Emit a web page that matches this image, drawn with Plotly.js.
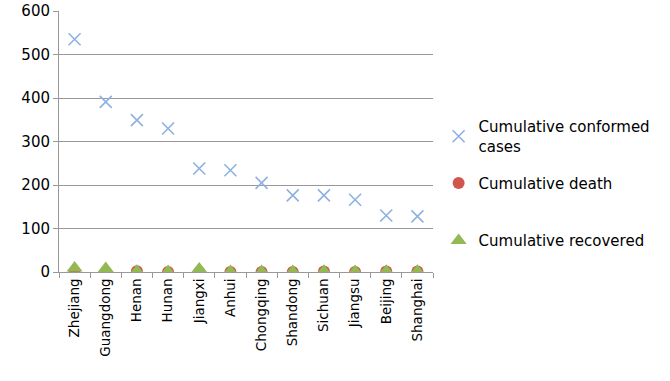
<!DOCTYPE html>
<html><head><meta charset="utf-8">
<script src="https://cdn.plot.ly/plotly-3.0.1.min.js"></script>
<style>html,body{margin:0;padding:0;background:#fff}#c{width:670px;height:381px}</style>
</head><body><div id="c"></div>
<script>
const provinces = ["Zhejiang","Guangdong","Henan","Hunan","Jiangxi","Anhui","Chongqing","Shandong","Sichuan","Jiangsu","Beijing","Shanghai"];
const confirmed = [535, 391, 349, 330, 238, 234, 205, 176, 176, 166, 130, 128];
const deaths = [0, 0, 2, 0, 0, 0, 0, 0, 1, 0, 1, 1];
const recovered = [9, 8, 2, 1, 7, 1, 1, 1, 2, 1, 2, 2];
const yTicks = [0, 100, 200, 300, 400, 500, 600];

const fontFam = "DejaVu Sans, sans-serif";
const traces = [
  {x: provinces, y: confirmed, type: "scatter", mode: "markers", name: "Cumulative conformed<br>cases",
   marker: {symbol: "x-thin", size: 12, line: {color: "#8EB1E0", width: 1.6}, color: "#8EB1E0"}, legend: "legend"},
  {x: provinces, y: deaths, type: "scatter", mode: "markers", name: "Cumulative death",
   marker: {symbol: "circle", size: 12, color: "#CF5750"}, legend: "legend2"},
  {x: provinces, y: recovered, type: "scatter", mode: "markers", name: "Cumulative recovered",
   marker: {symbol: "triangle-up", size: 14, color: "#93B955"}, legend: "legend3"}
];
const legBase = {xref: "paper", yref: "paper", xanchor: "left", yanchor: "middle", bgcolor: "rgba(0,0,0,0)",
  font: {family: fontFam, size: 15, color: "#000"}, itemwidth: 30};
const layout = {
  width: 670, height: 381,
  margin: {l: 59, r: 237, t: 11, b: 109},
  paper_bgcolor: "#fff", plot_bgcolor: "#fff",
  showlegend: true,
  xaxis: {type: "category", tickangle: -90, tickson: "boundaries", ticks: "outside", ticklen: 5, tickcolor: "#999",
    showline: true, linecolor: "#999", linewidth: 1, showgrid: false,
    tickfont: {family: fontFam, size: 13.5, color: "#000"}, range: [-0.5, 11.5]},
  yaxis: {range: [0, 600], tickvals: yTicks, ticks: "outside", ticklen: 5, tickcolor: "#999",
    showline: true, linecolor: "#999", showgrid: true, gridcolor: "#999", gridwidth: 1, zeroline: false,
    tickfont: {family: fontFam, size: 15, color: "#000"}},
  legend: Object.assign({}, legBase, {x: 1.015, y: 0.52}),
  legend2: Object.assign({}, legBase, {x: 1.015, y: 0.34}),
  legend3: Object.assign({}, legBase, {x: 1.015, y: 0.12})
};
Plotly.newPlot("c", traces, layout, {displayModeBar: false, staticPlot: true});
</script></body></html>
